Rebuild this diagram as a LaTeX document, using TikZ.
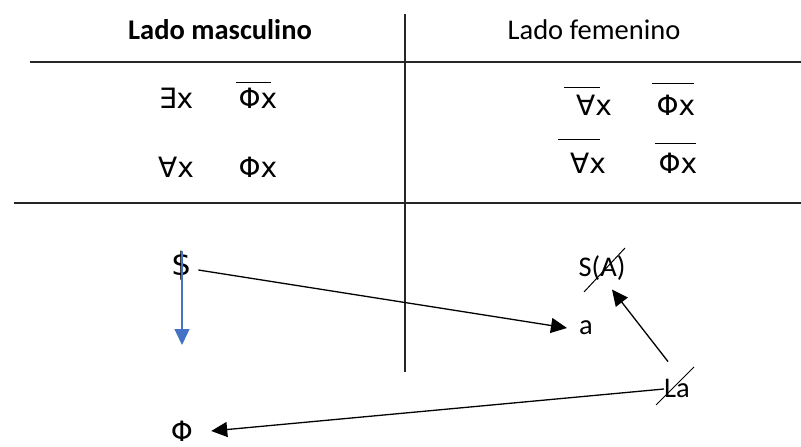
\documentclass[tikz,border=0pt]{standalone}
\usepackage{fontspec}
\setmainfont{Carlito}
\newfontfamily\symf{DejaVu Sans}
\usetikzlibrary{arrows.meta}
\definecolor{WordBlue}{HTML}{4472C4}

\begin{document}
\begin{tikzpicture}[x=1pt,y=-1pt, every node/.style={font=\fontsize{28.5}{32}\selectfont,inner sep=6pt},
formula/.style={font=\fontsize{28}{32}\symf},
rule/.style={draw=black!85,line width=1.3pt},
bar/.style={line width=1pt},
strike/.style={line width=1pt},
arr/.style={line width=1.3pt,-{Triangle[length=16pt,width=15pt]}},
bluearr/.style={draw=WordBlue,line width=1.3pt,-{Triangle[length=16pt,width=15pt]},WordBlue}]
\useasboundingbox (0,0) rectangle (801,447);
% table
\draw[rule] (30,62) -- (801,62);
\draw[rule] (14,203) -- (801,203);
\draw[rule] (405,14) -- (405,372);
\node[font=\fontsize{28.5}{32}\selectfont\bfseries] (masc) at (220,30) {Lado masculino};
\node (fem) at (594,30) {Lado femenino};
% formulas
\node[formula] (ex) at (176,98) {∃x};
\node[formula] (phia) at (258,98) {Φx};
\node[formula] (alla) at (176,167) {∀x};
\node[formula] (phib) at (258,167) {Φx};
\node[formula] (allb) at (594,105) {∀x};
\node[formula] (phic) at (676,105) {Φx};
\node[formula] (allc) at (588,163) {∀x};
\node[formula] (phid) at (678,163) {Φx};
\draw[bar] (236,82) -- (271,82);
\draw[bar] (564,87) -- (600,87);
\draw[bar] (652,83) -- (694,83);
\draw[bar] (558,139) -- (600,139);
\draw[bar] (655,143) -- (696,143);
% lower part
\node[formula,font=\fontsize{32}{36}\symf] (dollar) at (182,266) {\$};
\node (sa) at (602,268) {S(A)};
\node (a) at (586,328) {a};
\node (la) at (677,388) {La};
\node[formula] (phi) at (182,431) {Φ};
\coordinate (down) at (182,345);
\draw[strike] (584,292) -- (625,248);
\draw[strike] (656,405) -- (694,367);
\draw[bluearr] ([yshift=-6pt]dollar.north) -- (down);
\draw[arr] ([yshift=-4pt]dollar.east) -- ([xshift=-6pt]a.west);
\draw[arr] ([xshift=-9pt,yshift=11pt]la.north) -- ([xshift=10pt,yshift=-3pt]sa.south);
\draw[arr] ([xshift=6pt,yshift=-1pt]la.west) -- ([xshift=12pt,yshift=0pt]phi.east);
\end{tikzpicture}
\end{document}
